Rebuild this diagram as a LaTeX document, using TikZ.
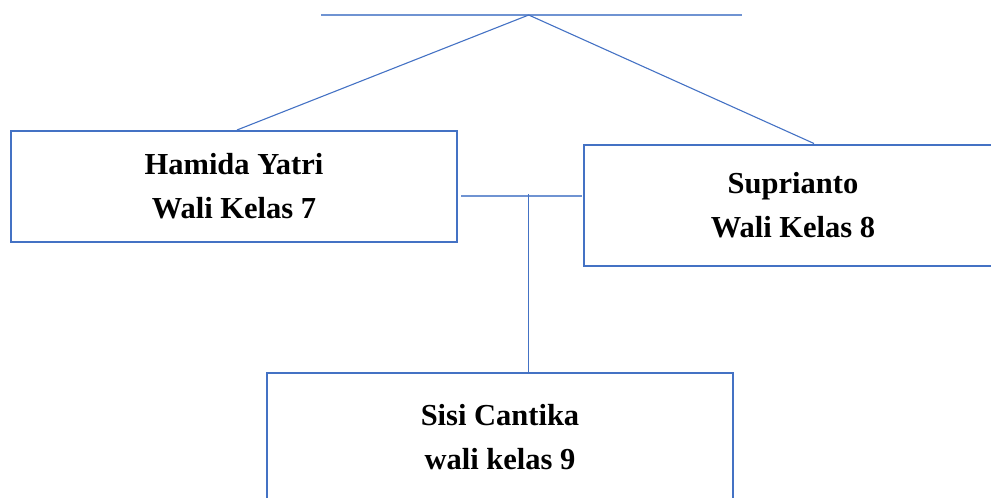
\documentclass[tikz,border=0pt]{standalone}
\usepackage{fontspec}
\setmainfont{Liberation Serif}
\usetikzlibrary{calc}
\definecolor{wordblue}{HTML}{4472C4}
\definecolor{lightblue}{HTML}{6F93D2}
\begin{document}
\begin{tikzpicture}[x=1pt,y=-1pt,
  box/.style={draw=wordblue, line width=2pt, fill=white, inner sep=0pt, align=center,
    font=\fontsize{30.5}{44}\selectfont\bfseries},
  conn/.style={draw=wordblue, line width=1.1pt},
  hconn/.style={draw=lightblue, line width=1.6pt}]
\useasboundingbox (0,0) rectangle (991,498);
\clip (0,0) rectangle (991,498);
\node[box, minimum width=446pt, minimum height=111pt] (b1) at (234,186.5) {Hamida Yatri\\Wali Kelas 7};
\node[box, minimum width=418pt, minimum height=121pt] (b2) at (793,205) {Suprianto\\Wali Kelas 8};
\node[box, minimum width=466pt, minimum height=128pt] (b3) at (500,437) {Sisi Cantika\\wali kelas 9};
\coordinate (tl) at (321,15);
\coordinate (tr) at (742,15);
\coordinate (apex) at (528.7,15);
\draw[hconn] (tl) -- (tr);
\draw[conn] (apex) -- ($(b1.north)+(3,0)$);
\draw[conn] (apex) -- ($(b2.north)+(21,0)$);
\coordinate (hl) at (461,196);
\coordinate (hr) at (582,196);
\coordinate (vtop) at (528.7,194);
\draw[hconn] (hl) -- (hr);
\draw[conn] (vtop) -- ($(b3.north)+(28.7,0)$);
\end{tikzpicture}
\end{document}
